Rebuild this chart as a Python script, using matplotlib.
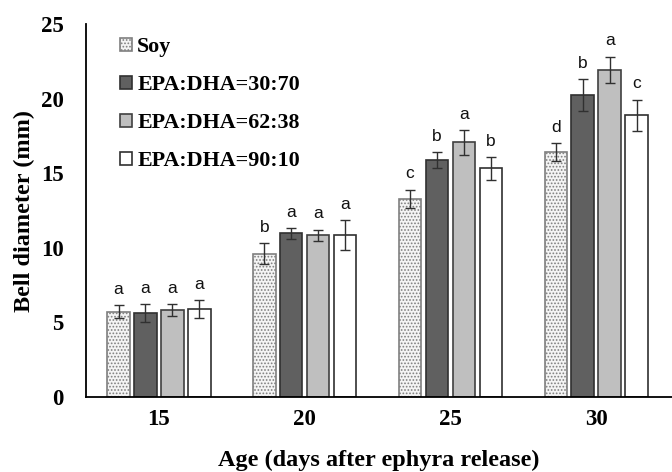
import matplotlib
matplotlib.use("Agg")
import matplotlib.pyplot as plt
import numpy as np

ages = ["15", "20", "25", "30"]
series = ["Soy", "EPA:DHA=30:70", "EPA:DHA=62:38", "EPA:DHA=90:10"]
soy = [5.72, 9.6, 13.3, 16.42]
epa30 = [5.63, 10.96, 15.88, 20.24]
epa62 = [5.82, 10.85, 17.07, 21.92]
epa90 = [5.9, 10.85, 15.32, 18.88]
soy_err = [0.45, 0.7, 0.6, 0.6]
epa30_err = [0.6, 0.37, 0.52, 1.08]
epa62_err = [0.38, 0.37, 0.82, 0.9]
epa90_err = [0.6, 1.0, 0.76, 1.06]
soy_sig = ["a", "b", "c", "d"]
epa30_sig = ["a", "a", "b", "b"]
epa62_sig = ["a", "a", "a", "a"]
epa90_sig = ["a", "a", "b", "c"]

values = [soy, epa30, epa62, epa90]
errors = [soy_err, epa30_err, epa62_err, epa90_err]
sigs = [soy_sig, epa30_sig, epa62_sig, epa90_sig]
faces = ["#f4f4f4", "#606060", "#bfbfbf", "#ffffff"]
edges = ["#7f7f7f", "#303030", "#404040", "#303030"]
hatches = [".....", None, None, None]

plt.rcParams["hatch.color"] = "#9a9a9a"
plt.rcParams["hatch.linewidth"] = 0.8

fig = plt.figure(figsize=(6.72, 4.72), dpi=100)
ax = fig.add_axes([0.128, 0.159, 0.872, 0.79])

x = np.arange(len(ages))
width = 0.155
offsets = [-0.277, -0.0925, 0.0925, 0.277]
serif = "Liberation Serif"

for i in range(4):
    ax.bar(x + offsets[i], values[i], width, color=faces[i], edgecolor=edges[i],
           linewidth=1.2, hatch=hatches[i], label=series[i], zorder=2)
    ax.errorbar(x + offsets[i], values[i], yerr=errors[i], fmt="none",
                ecolor="#303030", elinewidth=1.0, capsize=3.5, capthick=1.0, zorder=3)
    for j in range(4):
        ax.annotate(sigs[i][j], (x[j] + offsets[i], values[i][j] + errors[i][j]),
                    xytext=(0, 6), textcoords="offset points", ha="center", va="bottom",
                    fontsize=12.5, family="Liberation Sans", color="#111111")

ax.set_xlim(-0.5, 3.52)
ax.set_ylim(0, 25)
ax.set_yticks([0, 5, 10, 15, 20, 25])
ax.set_xticks(x)
ax.set_xticklabels(ages)
for lab in ax.get_xticklabels() + ax.get_yticklabels():
    lab.set_fontfamily(serif)
    lab.set_fontweight("bold")
    lab.set_fontsize(16.5)
ax.tick_params(axis="both", length=0)
ax.tick_params(axis="y", pad=16)
ax.tick_params(axis="x", pad=9)
for s in ["top", "right"]:
    ax.spines[s].set_visible(False)
for s in ["left", "bottom"]:
    ax.spines[s].set_linewidth(1.3)
    ax.spines[s].set_color("black")

ax.set_xlabel("Age (days after ephyra release)", fontfamily=serif, fontweight="bold",
              fontsize=17.5, labelpad=14)
ax.set_ylabel("Bell diameter (mm)", fontfamily=serif, fontweight="bold",
              fontsize=17.5, labelpad=4)

leg = ax.legend(loc="upper left", bbox_to_anchor=(0.035, 1.0), frameon=False,
                prop={"family": serif, "weight": "bold", "size": 15.8},
                handlelength=0.55, handleheight=0.55, handletextpad=0.25,
                labelspacing=0.82, borderaxespad=0.2)

fig.savefig("out.png", dpi=100)
